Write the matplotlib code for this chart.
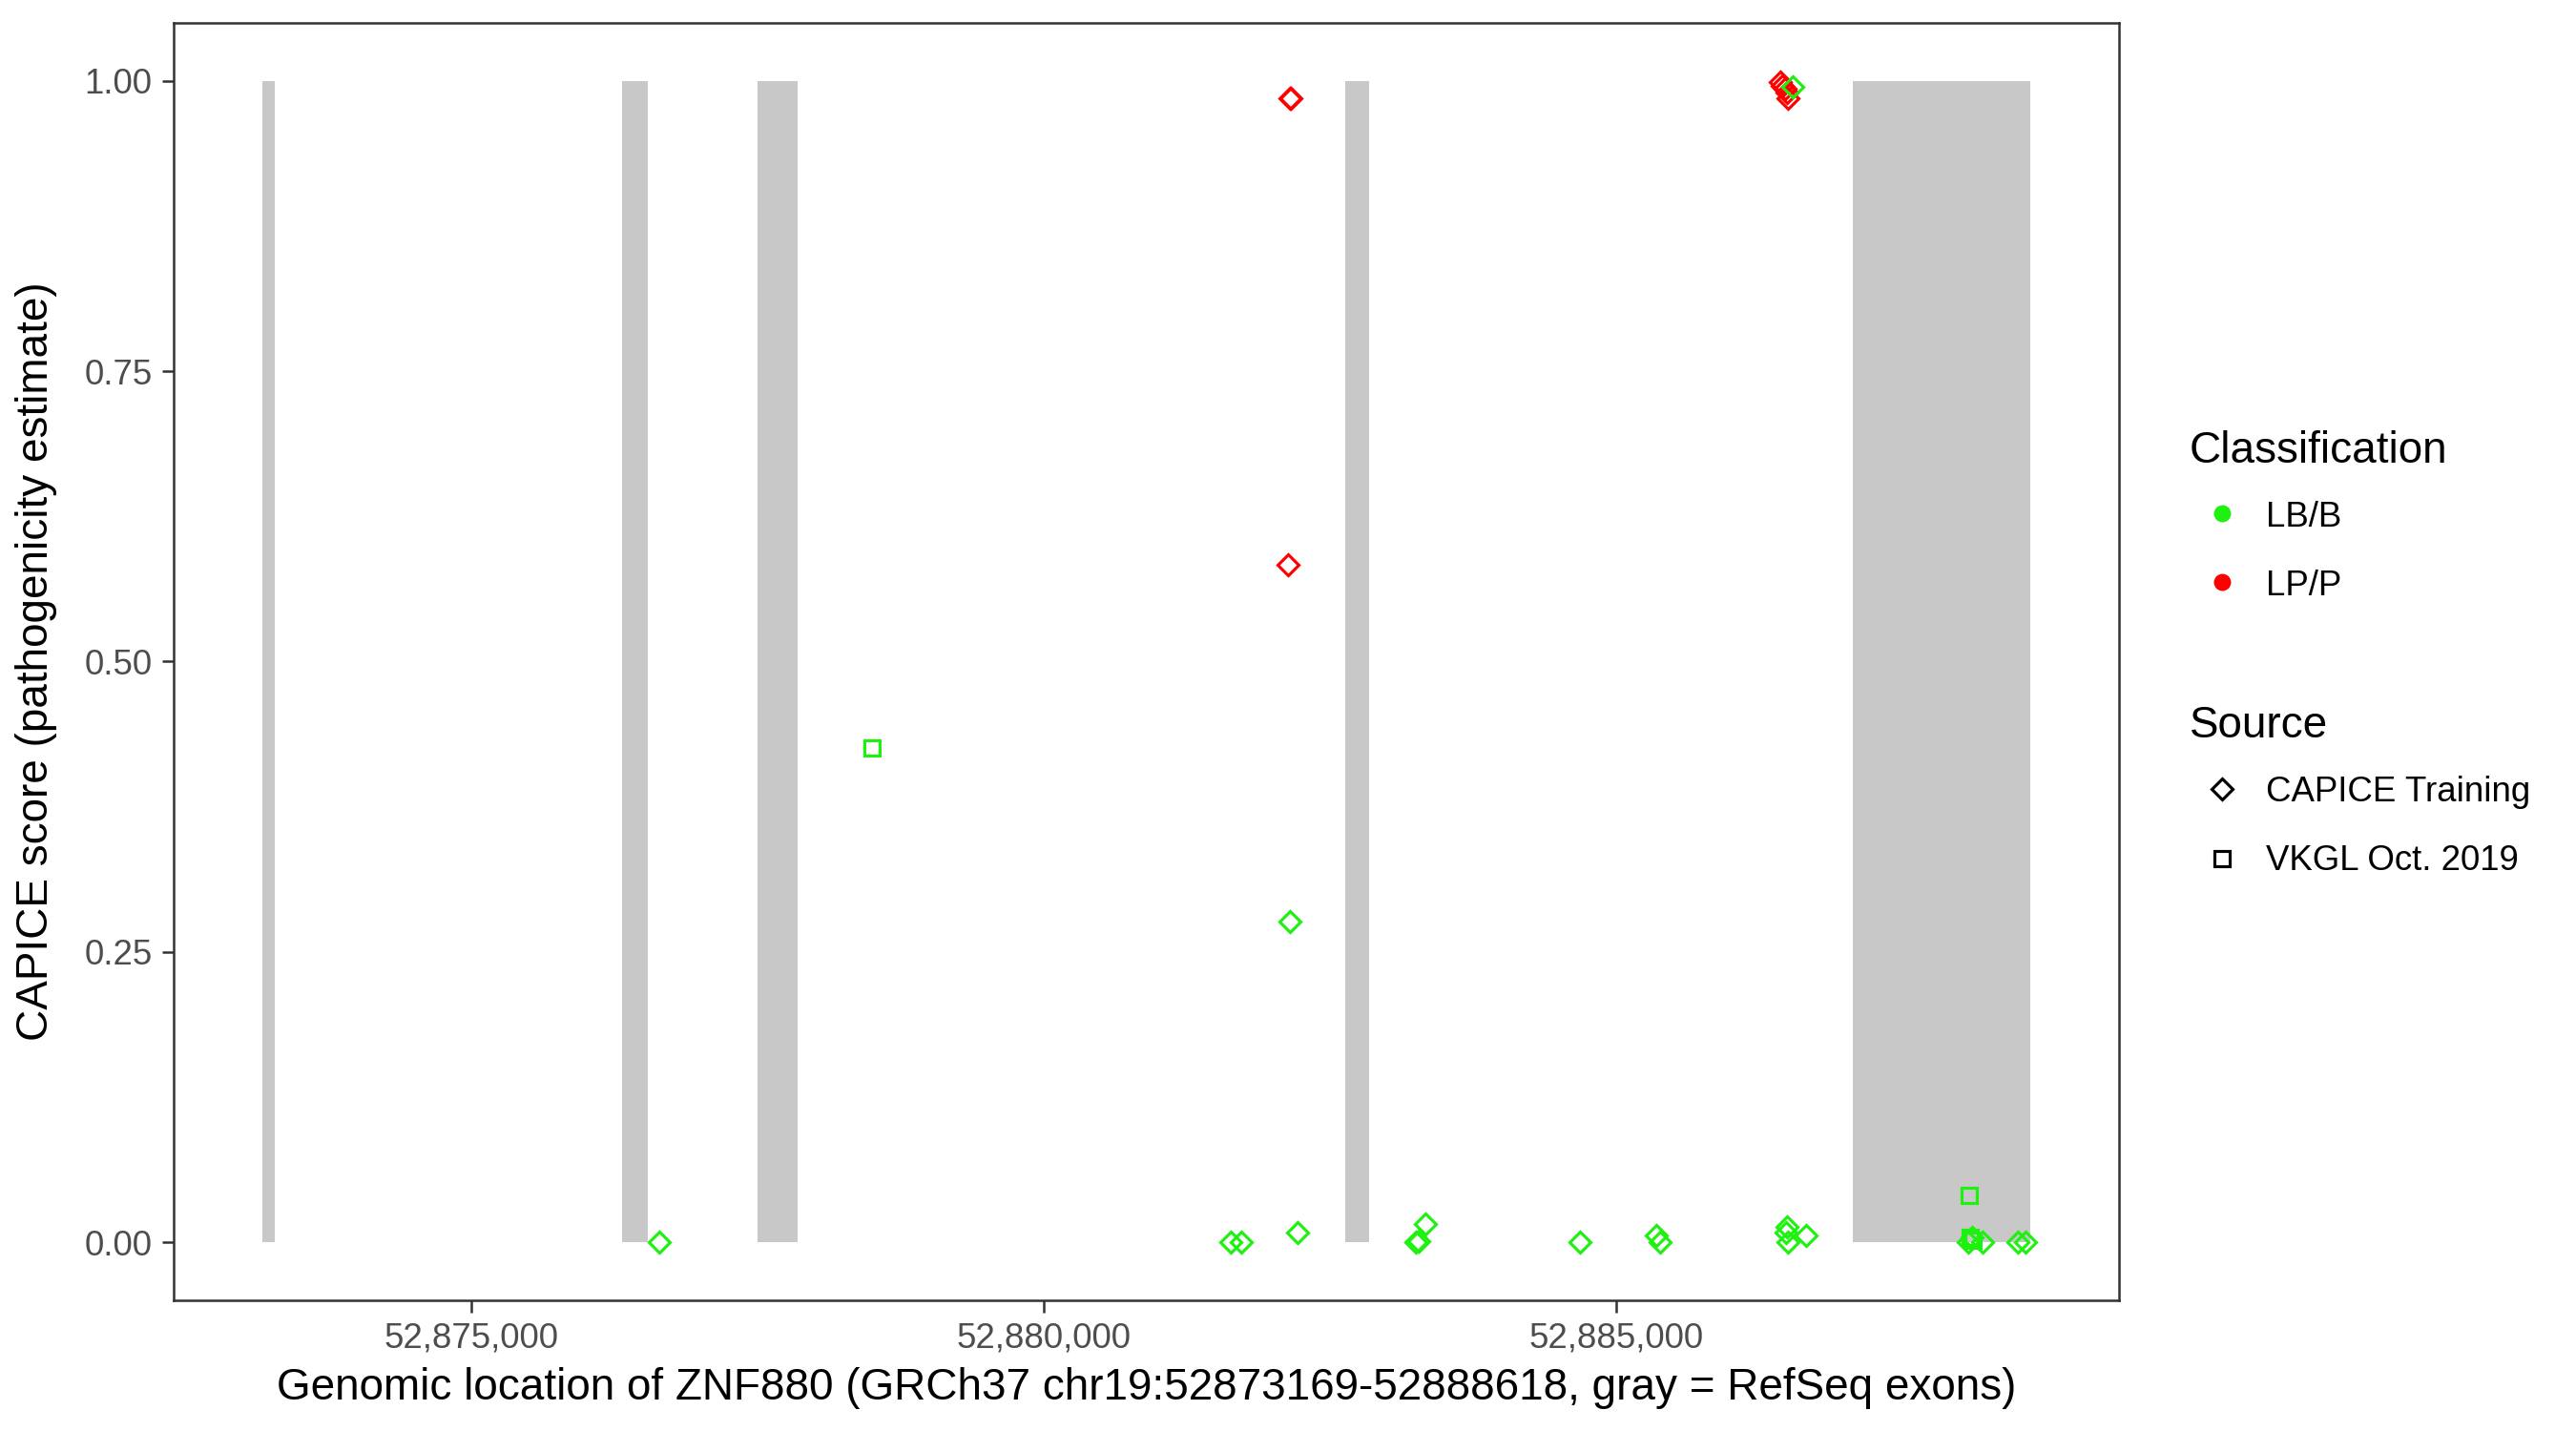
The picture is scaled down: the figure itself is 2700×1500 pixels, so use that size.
import matplotlib
matplotlib.use("Agg")
import matplotlib.pyplot as plt
from matplotlib.lines import Line2D
from matplotlib.ticker import FuncFormatter

plt.rcParams['font.family'] = ['Liberation Sans', 'DejaVu Sans']

# RefSeq exons of ZNF880 (start, end)
exon_start = [52873169, 52876317, 52877500, 52882633, 52887067]
exon_end = [52873280, 52876542, 52877850, 52882842, 52888618]

# variants
pos = [52876640, 52881630, 52881720, 52882150, 52882160, 52882135, 52882150,
       52882215, 52883250, 52883270, 52883335, 52884685, 52885350, 52885385,
       52886430, 52886470, 52886500, 52886450, 52886490, 52886540, 52886490,
       52886480, 52886500, 52886660, 52888070, 52888110, 52888200, 52888510,
       52888570,
       52878500, 52888085, 52888090, 52888115]
score = [0.000, 0.000, 0.000, 0.985, 0.985, 0.583, 0.276,
         0.008, 0.000, 0.001, 0.016, 0.000, 0.006, 0.000,
         0.999, 0.993, 0.985, 0.996, 0.990, 0.995, 0.013,
         0.008, 0.000, 0.006, 0.000, 0.004, 0.000, 0.000,
         0.000,
         0.426, 0.040, 0.004, 0.002]
classification = ['LB/B', 'LB/B', 'LB/B', 'LP/P', 'LP/P', 'LP/P', 'LB/B',
                  'LB/B', 'LB/B', 'LB/B', 'LB/B', 'LB/B', 'LB/B', 'LB/B',
                  'LP/P', 'LP/P', 'LP/P', 'LP/P', 'LP/P', 'LB/B', 'LB/B',
                  'LB/B', 'LB/B', 'LB/B', 'LB/B', 'LB/B', 'LB/B', 'LB/B',
                  'LB/B',
                  'LB/B', 'LB/B', 'LB/B', 'LB/B']
source = ['CAPICE Training'] * 29 + ['VKGL Oct. 2019'] * 4

gene_start, gene_end = 52873169, 52888618
colors = {'LB/B': '#1EF010', 'LP/P': '#FF0000'}
markers = {'CAPICE Training': 'D', 'VKGL Oct. 2019': 's'}
msizes = {'CAPICE Training': 3.75, 'VKGL Oct. 2019': 4.0}

fig = plt.figure(figsize=(9, 5), dpi=300)
ax = fig.add_axes([182 / 2700, 1 - 1363 / 1500, (2221 - 182) / 2700, (1363 - 24) / 1500])

widths = [e - s for s, e in zip(exon_start, exon_end)]
ax.bar(exon_start, [1] * len(exon_start), width=widths, bottom=0, align='edge',
       color='#C8C8C8', linewidth=0, zorder=1)

for cls in ['LP/P', 'LB/B']:
    for src in ['CAPICE Training', 'VKGL Oct. 2019']:
        xs = [p for p, c, s in zip(pos, classification, source) if c == cls and s == src]
        ys = [v for v, c, s in zip(score, classification, source) if c == cls and s == src]
        if xs:
            ax.plot(xs, ys, linestyle='none', marker=markers[src], ms=msizes[src],
                    mfc='none', mec=colors[cls], mew=0.75, zorder=3)

span = gene_end - gene_start
ax.set_xlim(gene_start - 0.05 * span, gene_end + 0.05 * span)
ax.set_ylim(-0.05, 1.05)
ax.set_xticks([52875000, 52880000, 52885000])
ax.xaxis.set_major_formatter(FuncFormatter(lambda v, p: f'{int(v):,}'))
ax.set_yticks([0, 0.25, 0.5, 0.75, 1.0])
ax.set_yticklabels(['0.00', '0.25', '0.50', '0.75', '1.00'])
ax.tick_params(length=3.0, width=0.6, color='#333333', labelcolor='#4D4D4D',
               labelsize=8.8, pad=2.4)
for sp in ax.spines.values():
    sp.set_color('#333333')
    sp.set_linewidth(0.6)

fig.text((182 + 2221) / 2 / 2700, 1 - 1455 / 1500,
         'Genomic location of ZNF880 (GRCh37 chr19:52873169-52888618, gray = RefSeq exons)',
         ha='center', va='center', fontsize=11)
fig.text(38 / 2700, 1 - 693 / 1500, 'CAPICE score (pathogenicity estimate)',
         ha='center', va='center', rotation=90, fontsize=11)

# legends
def fy(y):
    return 1 - y / 1500

fig.text(2295 / 2700, fy(485), 'Classification', fontsize=11, va='baseline')
for lab, yy, yb in [('LB/B', 538, 552), ('LP/P', 610, 624)]:
    fig.add_artist(Line2D([2329 / 2700], [fy(yy)], transform=fig.transFigure,
                          marker='o', ms=4.3, mfc=colors[lab], mec='none', linestyle='none'))
    fig.text(2375 / 2700, fy(yb), lab, fontsize=8.8, va='baseline')

fig.text(2295 / 2700, fy(773), 'Source', fontsize=11, va='baseline')
for lab, yy, yb in [('CAPICE Training', 827, 840), ('VKGL Oct. 2019', 900, 912)]:
    fig.add_artist(Line2D([2329 / 2700], [fy(yy)], transform=fig.transFigure,
                          marker=markers[lab], ms=msizes[lab], mfc='none', mec='black',
                          mew=0.75, linestyle='none'))
    fig.text(2375 / 2700, fy(yb), lab, fontsize=8.8, va='baseline')

fig.savefig('out.png', dpi=300, facecolor='white')
